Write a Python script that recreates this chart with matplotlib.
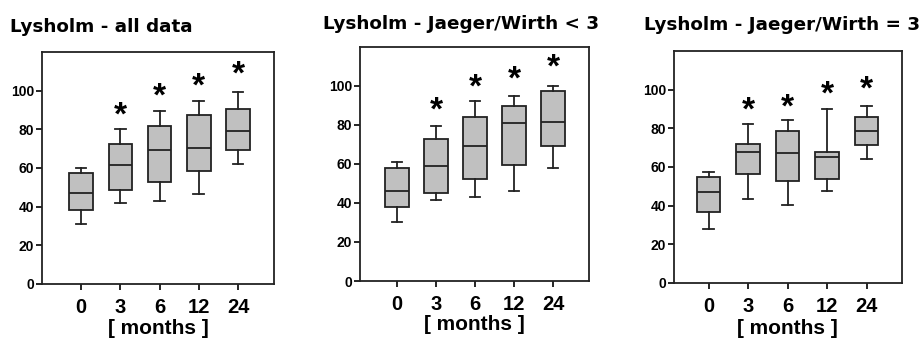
import matplotlib.pyplot as plt

plt.rcParams["font.family"] = ["Liberation Sans", "DejaVu Sans"]
plt.rcParams["font.weight"] = "bold"

months = ["0", "3", "6", "12", "24"]
titles = ["Lysholm - all data", "Lysholm - Jaeger/Wirth < 3", "Lysholm - Jaeger/Wirth = 3"]

# whisker low, Q1, median, Q3, whisker high per time point
all_lo = [31, 42, 42.8, 46.5, 62.2]
all_q1 = [38.3, 48.4, 52.8, 58.5, 69.4]
all_med = [47.3, 61.7, 69.4, 70.3, 78.9]
all_q3 = [57.3, 72.4, 81.9, 87.6, 90.7]
all_hi = [60, 80.3, 89.6, 94.8, 99.1]
all_star = [None, 87, 96.5, 102, 108]

lt3_lo = [30.4, 41.5, 43.2, 46, 58.1]
lt3_q1 = [38.1, 45.3, 52.5, 59.6, 69.1]
lt3_med = [46, 59, 69.1, 81, 81.2]
lt3_q3 = [58.1, 72.5, 84.1, 89.7, 97.1]
lt3_hi = [61.2, 79.6, 92, 94.9, 99.8]
lt3_star = [None, 86.8, 98.8, 103, 109]

eq3_lo = [28, 43.2, 40.5, 47.3, 64.1]
eq3_q1 = [36.7, 56.3, 52.5, 54, 71.2]
eq3_med = [46.8, 67.7, 67.1, 65.2, 78.5]
eq3_q3 = [54.9, 72, 78.5, 67.7, 85.7]
eq3_hi = [57.6, 82, 84.4, 90, 91.4]
eq3_star = [None, 88.8, 90.5, 97.4, 100]

panels = [
    (all_lo, all_q1, all_med, all_q3, all_hi, all_star),
    (lt3_lo, lt3_q1, lt3_med, lt3_q3, lt3_hi, lt3_star),
    (eq3_lo, eq3_q1, eq3_med, eq3_q3, eq3_hi, eq3_star),
]

fig = plt.figure(figsize=(9.23, 3.4), dpi=100)
rects = [
    [0.0455, 0.165, 0.2514, 0.682],
    [0.390, 0.1735, 0.248, 0.689],
    [0.730, 0.1685, 0.247, 0.681],
]
xlims = [(0.0, 5.92), (0.05, 5.92), (0.12, 5.89)]
title_pos = [(10, 27, "left"), (461, 24, "center"), (782, 25, "center")]
label_y = [329, 324, 329]

for i, (lo, q1, med, q3, hi, star) in enumerate(panels):
    ax = fig.add_axes(rects[i])
    stats = []
    for k in range(len(months)):
        stats.append({"whislo": lo[k], "q1": q1[k], "med": med[k],
                      "q3": q3[k], "whishi": hi[k], "fliers": []})
    ax.bxp(stats, positions=range(1, 6), widths=0.6, capwidths=0.27,
           patch_artist=True, showfliers=False,
           boxprops=dict(facecolor="#c0c0c0", edgecolor="#222222", linewidth=1.3),
           medianprops=dict(color="#222222", linewidth=1.3),
           whiskerprops=dict(color="#222222", linewidth=1.3),
           capprops=dict(color="#222222", linewidth=1.3))
    for k, s in enumerate(star):
        if s is not None:
            ax.text(k + 1, s, "*", ha="center", va="center",
                    fontsize=24, fontweight="bold")
    ax.set_xlim(*xlims[i])
    ax.set_ylim(0, 120)
    ax.set_yticks([0, 20, 40, 60, 80, 100])
    ax.set_xticks(range(1, 6))
    ax.set_xticklabels(months, fontsize=14.5, fontweight="bold")
    ax.tick_params(axis="y", labelsize=10, length=4, width=1.2, pad=1.5)
    ax.tick_params(axis="x", length=4, width=1.2, pad=6)
    for sp in ax.spines.values():
        sp.set_linewidth(1.3)
        sp.set_color("#222222")
    for lab in ax.get_yticklabels():
        lab.set_fontweight("bold")
    tx, ty, ha = title_pos[i]
    fig.text(tx / 923, 1 - ty / 340, titles[i], ha=ha, va="center",
             fontsize=13.2, fontweight="bold", family="DejaVu Sans")
    cx = (rects[i][0] + rects[i][2] / 2)
    fig.text(cx, 1 - label_y[i] / 340, "[ months ]", ha="center", va="center",
             fontsize=15, fontweight="bold")

fig.savefig("out.png", dpi=100)
